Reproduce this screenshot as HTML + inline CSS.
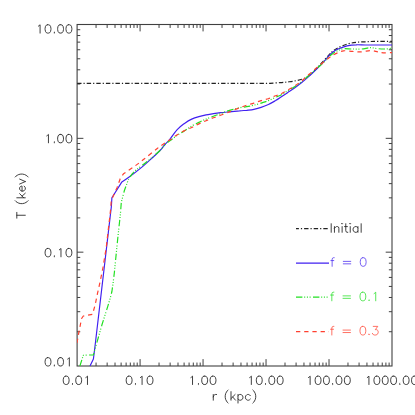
<!DOCTYPE html>
<html><head><meta charset="utf-8"><title>T vs r</title>
<style>
html,body{margin:0;padding:0;background:#fff;}
body{width:415px;height:415px;overflow:hidden;font-family:"Liberation Sans",sans-serif;}
svg{display:block;}
</style></head>
<body>
<svg width="415" height="415" viewBox="0 0 415 415">
<defs><clipPath id="c"><rect x="77.1" y="24.5" width="314.9" height="341.5"/></clipPath></defs>
<rect x="0" y="0" width="415" height="415" fill="#ffffff"/>
<rect x="77.1" y="24.5" width="314.9" height="341.5" fill="none" stroke="#404040" stroke-width="1.1"/>
<path d="M96.06,366.0 v-3.45 M96.06,24.5 v3.45 M107.15,366.0 v-3.45 M107.15,24.5 v3.45 M115.02,366.0 v-3.45 M115.02,24.5 v3.45 M121.12,366.0 v-3.45 M121.12,24.5 v3.45 M126.11,366.0 v-3.45 M126.11,24.5 v3.45 M130.32,366.0 v-3.45 M130.32,24.5 v3.45 M133.98,366.0 v-3.45 M133.98,24.5 v3.45 M137.20,366.0 v-3.45 M137.20,24.5 v3.45 M140.08,366.0 v-6.9 M140.08,24.5 v6.9 M159.04,366.0 v-3.45 M159.04,24.5 v3.45 M170.13,366.0 v-3.45 M170.13,24.5 v3.45 M178.00,366.0 v-3.45 M178.00,24.5 v3.45 M184.10,366.0 v-3.45 M184.10,24.5 v3.45 M189.09,366.0 v-3.45 M189.09,24.5 v3.45 M193.30,366.0 v-3.45 M193.30,24.5 v3.45 M196.96,366.0 v-3.45 M196.96,24.5 v3.45 M200.18,366.0 v-3.45 M200.18,24.5 v3.45 M203.06,366.0 v-6.9 M203.06,24.5 v6.9 M222.02,366.0 v-3.45 M222.02,24.5 v3.45 M233.11,366.0 v-3.45 M233.11,24.5 v3.45 M240.98,366.0 v-3.45 M240.98,24.5 v3.45 M247.08,366.0 v-3.45 M247.08,24.5 v3.45 M252.07,366.0 v-3.45 M252.07,24.5 v3.45 M256.28,366.0 v-3.45 M256.28,24.5 v3.45 M259.94,366.0 v-3.45 M259.94,24.5 v3.45 M263.16,366.0 v-3.45 M263.16,24.5 v3.45 M266.04,366.0 v-6.9 M266.04,24.5 v6.9 M285.00,366.0 v-3.45 M285.00,24.5 v3.45 M296.09,366.0 v-3.45 M296.09,24.5 v3.45 M303.96,366.0 v-3.45 M303.96,24.5 v3.45 M310.06,366.0 v-3.45 M310.06,24.5 v3.45 M315.05,366.0 v-3.45 M315.05,24.5 v3.45 M319.26,366.0 v-3.45 M319.26,24.5 v3.45 M322.92,366.0 v-3.45 M322.92,24.5 v3.45 M326.14,366.0 v-3.45 M326.14,24.5 v3.45 M329.02,366.0 v-6.9 M329.02,24.5 v6.9 M347.98,366.0 v-3.45 M347.98,24.5 v3.45 M359.07,366.0 v-3.45 M359.07,24.5 v3.45 M366.94,366.0 v-3.45 M366.94,24.5 v3.45 M373.04,366.0 v-3.45 M373.04,24.5 v3.45 M378.03,366.0 v-3.45 M378.03,24.5 v3.45 M382.24,366.0 v-3.45 M382.24,24.5 v3.45 M385.90,366.0 v-3.45 M385.90,24.5 v3.45 M389.12,366.0 v-3.45 M389.12,24.5 v3.45 M77.1,331.73 h3.15 M392.0,331.73 h-3.15 M77.1,311.69 h3.15 M392.0,311.69 h-3.15 M77.1,297.47 h3.15 M392.0,297.47 h-3.15 M77.1,286.43 h3.15 M392.0,286.43 h-3.15 M77.1,277.42 h3.15 M392.0,277.42 h-3.15 M77.1,269.80 h3.15 M392.0,269.80 h-3.15 M77.1,263.20 h3.15 M392.0,263.20 h-3.15 M77.1,257.38 h3.15 M392.0,257.38 h-3.15 M77.1,252.17 h6.3 M392.0,252.17 h-6.3 M77.1,217.90 h3.15 M392.0,217.90 h-3.15 M77.1,197.85 h3.15 M392.0,197.85 h-3.15 M77.1,183.63 h3.15 M392.0,183.63 h-3.15 M77.1,172.60 h3.15 M392.0,172.60 h-3.15 M77.1,163.59 h3.15 M392.0,163.59 h-3.15 M77.1,155.97 h3.15 M392.0,155.97 h-3.15 M77.1,149.36 h3.15 M392.0,149.36 h-3.15 M77.1,143.54 h3.15 M392.0,143.54 h-3.15 M77.1,138.33 h6.3 M392.0,138.33 h-6.3 M77.1,104.07 h3.15 M392.0,104.07 h-3.15 M77.1,84.02 h3.15 M392.0,84.02 h-3.15 M77.1,69.80 h3.15 M392.0,69.80 h-3.15 M77.1,58.77 h3.15 M392.0,58.77 h-3.15 M77.1,49.75 h3.15 M392.0,49.75 h-3.15 M77.1,42.13 h3.15 M392.0,42.13 h-3.15 M77.1,35.53 h3.15 M392.0,35.53 h-3.15 M77.1,29.71 h3.15 M392.0,29.71 h-3.15" fill="none" stroke="#404040" stroke-width="1"/>
<g fill="none" stroke-width="1.2" stroke-linejoin="round" clip-path="url(#c)">
<path d="M77.1,83.3 L270.0,83.3 C271.7,83.2 277.1,82.9 280.0,82.7 C282.9,82.5 284.8,82.3 287.2,82.0 C289.6,81.7 292.1,81.5 294.5,81.0 C296.9,80.5 299.5,80.0 301.7,79.3 C303.9,78.6 305.8,77.7 307.5,76.7 C309.2,75.7 310.4,74.4 311.8,73.1 C313.2,71.8 314.7,70.4 316.1,69.0 C317.5,67.6 317.9,67.2 320.0,64.9 C322.1,62.6 326.8,57.3 329.0,55.0 C331.2,52.7 331.5,52.2 333.0,51.0 C334.5,49.8 335.8,48.9 338.1,47.7 C340.5,46.6 344.1,45.0 347.1,44.1 C350.1,43.2 353.1,42.7 356.1,42.3 C359.1,41.9 362.2,41.9 365.2,41.8 C368.2,41.6 369.7,41.5 374.2,41.4 C378.7,41.3 389.3,41.4 392.3,41.4" stroke="#222" stroke-dasharray="4.4 2 1.2 2"/>
<path d="M90.0,366.0 L93.4,359.0 L95.1,345.5 L101.6,290.0 L111.3,207.0 L111.9,197.8 L121.9,181.9 C123.2,181.1 126.1,179.3 129.5,176.8 C132.9,174.3 138.3,170.2 142.2,166.9 C146.1,163.6 150.0,159.9 153.0,157.2 C156.0,154.5 158.0,152.6 160.0,150.5 C162.0,148.4 163.3,146.4 165.0,144.5 C166.7,142.6 168.0,141.5 170.0,139.0 C172.0,136.5 174.8,132.2 177.2,129.6 C179.6,127.0 182.1,125.2 184.5,123.4 C186.9,121.7 189.3,120.2 191.7,119.1 C194.1,118.0 196.5,117.3 198.9,116.6 C201.3,115.9 203.7,115.4 206.1,114.9 C208.5,114.4 211.0,114.1 213.4,113.7 C215.8,113.3 217.8,113.0 220.6,112.7 C223.4,112.4 226.8,112.1 230.0,111.8 C233.2,111.5 236.7,111.0 239.5,110.8 C242.3,110.5 244.3,110.5 246.7,110.3 C249.1,110.0 251.5,109.8 253.9,109.3 C256.3,108.8 258.7,108.2 261.1,107.4 C263.5,106.6 266.0,105.6 268.4,104.5 C270.8,103.4 273.5,101.8 275.6,100.6 C277.7,99.3 279.1,98.3 281.0,97.0 C282.9,95.7 284.9,94.4 287.2,92.9 C289.4,91.4 292.1,89.7 294.5,88.0 C296.9,86.3 299.3,84.4 301.7,82.5 C304.1,80.6 306.5,78.6 308.9,76.4 C311.3,74.2 313.7,71.9 316.1,69.5 C318.5,67.1 321.2,64.5 323.4,62.2 C325.5,59.9 327.4,57.3 329.0,55.6 C330.6,53.9 331.5,53.1 333.0,52.0 C334.5,50.9 335.8,50.0 338.1,49.0 C340.5,48.0 344.1,46.6 347.1,45.9 C350.1,45.2 353.1,44.9 356.1,44.8 C359.1,44.6 362.2,45.0 365.2,45.0 C368.2,45.0 369.7,45.0 374.2,45.0 C378.7,45.0 389.3,45.0 392.3,45.0" stroke="#4020f0"/>
<path d="M79.9,366.0 L83.3,355.3 L93.4,354.8 L101.8,325.3 L107.7,306.6 L110.1,298.7 L111.9,291.5 L113.1,283.1 L114.4,272.2 L115.4,262.0 L118.0,236.0 L120.5,213.0 L121.3,202.3 L124.4,190.5 L128.4,179.6 C129.1,178.6 131.1,175.3 132.4,173.7 C133.7,172.1 134.7,171.2 136.3,169.8 C137.9,168.4 139.8,167.2 142.2,165.4 C144.6,163.6 147.6,161.2 150.6,158.7 C153.6,156.2 157.6,152.8 160.0,150.5 C162.4,148.2 163.2,146.3 165.0,144.6 C166.8,142.8 169.0,141.5 171.0,140.0 C173.0,138.5 174.9,136.9 177.2,135.4 C179.4,133.9 182.1,132.4 184.5,130.8 C186.9,129.2 189.3,127.4 191.7,126.0 C194.1,124.6 196.5,123.6 198.9,122.4 C201.3,121.2 203.7,120.1 206.1,119.1 C208.5,118.1 211.0,117.1 213.4,116.2 C215.8,115.3 218.7,114.4 220.6,113.7 C222.5,113.0 223.1,112.6 225.0,111.9 C226.9,111.2 229.8,110.3 232.2,109.6 C234.6,108.9 237.1,108.3 239.5,107.8 C241.9,107.3 244.3,107.1 246.7,106.7 C249.1,106.3 251.5,105.8 253.9,105.2 C256.3,104.6 258.7,103.9 261.1,103.1 C263.5,102.3 266.0,101.6 268.4,100.6 C270.8,99.6 273.4,98.3 275.6,97.3 C277.8,96.3 279.5,95.8 281.4,94.8 C283.3,93.8 285.0,92.4 287.2,91.1 C289.4,89.8 292.1,88.4 294.5,86.8 C296.9,85.2 299.3,83.4 301.7,81.5 C304.1,79.6 306.5,77.5 308.9,75.5 C311.3,73.5 313.7,71.4 316.1,69.2 C318.5,67.0 321.2,64.6 323.4,62.5 C325.5,60.4 327.4,58.3 329.0,56.8 C330.6,55.3 331.5,54.4 333.0,53.4 C334.5,52.4 336.4,51.3 338.1,50.5 C339.9,49.7 341.1,49.0 343.5,48.7 C345.9,48.5 349.5,49.0 352.5,49.0 C355.5,49.0 358.6,49.2 361.6,49.0 C364.6,48.8 367.9,47.8 370.6,47.7 C373.3,47.7 375.4,48.5 377.8,48.7 C380.2,48.9 382.7,49.1 385.1,49.0 C387.5,48.9 391.1,48.4 392.3,48.3" stroke="#22e022" stroke-dasharray="6.4 1.8 1 1.7 1 1.7 1 2.4"/>
<path d="M77.0,343.0 L79.1,331.2 L81.6,318.5 L83.3,316.0 L92.5,314.3 L95.1,305.1 L97.4,293.9 L99.8,283.1 L103.0,267.5 L106.3,247.0 L110.9,207.0 L111.2,200.6 L116.9,188.0 L120.2,178.7 L123.6,173.7 C125.3,172.6 130.3,169.3 133.7,166.9 C137.1,164.5 139.9,162.4 143.8,159.3 C147.7,156.2 153.8,151.1 157.3,148.4 C160.8,145.7 162.9,144.4 165.0,143.0 C167.1,141.6 168.0,141.2 170.0,139.8 C172.0,138.4 174.8,136.2 177.2,134.7 C179.6,133.2 182.1,131.8 184.5,130.6 C186.9,129.4 189.3,128.6 191.7,127.5 C194.1,126.4 196.5,125.0 198.9,123.9 C201.3,122.8 203.7,121.7 206.1,120.7 C208.5,119.7 211.0,118.7 213.4,117.8 C215.8,116.9 218.2,116.1 220.6,115.2 C223.0,114.3 226.0,113.2 227.9,112.5 C229.8,111.8 230.3,111.5 232.2,110.7 C234.1,109.9 237.1,108.7 239.5,107.8 C241.9,106.9 244.3,106.0 246.7,105.2 C249.1,104.4 251.5,103.9 253.9,103.1 C256.3,102.3 258.7,101.3 261.1,100.6 C263.5,99.9 266.0,99.5 268.4,98.7 C270.8,97.9 273.4,96.6 275.6,95.8 C277.8,95.0 279.5,94.6 281.4,93.7 C283.3,92.8 285.0,91.7 287.2,90.4 C289.4,89.1 292.1,87.7 294.5,86.1 C296.9,84.5 299.3,82.9 301.7,81.0 C304.1,79.1 306.5,76.6 308.9,74.5 C311.3,72.4 313.7,70.3 316.1,68.3 C318.5,66.2 321.2,64.0 323.4,62.2 C325.5,60.4 327.4,58.9 329.0,57.7 C330.6,56.5 331.5,55.9 333.0,55.0 C334.5,54.1 336.4,53.3 338.1,52.6 C339.9,51.9 341.1,51.0 343.5,50.8 C345.9,50.6 349.5,51.2 352.5,51.4 C355.5,51.6 358.6,52.0 361.6,51.9 C364.6,51.8 367.9,50.5 370.6,50.5 C373.3,50.5 375.7,51.5 377.8,51.9 C379.9,52.3 380.9,52.7 383.3,52.8 C385.7,52.9 390.8,52.6 392.3,52.6" stroke="#ff4030" stroke-dasharray="4.3 3.9"/>
</g>
<g fill="none" stroke-width="1.2">
<path d="M296,228.6 H329" stroke="#222" stroke-dashoffset="1.5" stroke-dasharray="4.4 2 1.2 2"/>
<path d="M296,263.1 H329" stroke="#4020f0"/>
<path d="M296,297.2 H329" stroke="#22e022" stroke-dasharray="6.4 1.8 1 1.7 1 1.7 1 2.4"/>
<path d="M296,331.6 H329" stroke="#ff4030" stroke-dasharray="4.3 3.9"/>
</g>
<path d="M38.41,26.14 L39.24,25.54 L40.08,24.74 L40.08,33.10 M47.60,24.74 L46.35,25.14 L45.51,26.33 L45.09,28.32 L45.09,29.52 L45.51,31.51 L46.35,32.70 L47.60,33.10 L48.44,33.10 L49.69,32.70 L50.53,31.51 L50.95,29.52 L50.95,28.32 L50.53,26.33 L49.69,25.14 L48.44,24.74 L47.60,24.74 M54.29,32.30 L53.87,32.70 L54.29,33.10 L54.71,32.70 L54.29,32.30 M60.14,24.74 L58.89,25.14 L58.05,26.33 L57.63,28.32 L57.63,29.52 L58.05,31.51 L58.89,32.70 L60.14,33.10 L60.98,33.10 L62.23,32.70 L63.07,31.51 L63.49,29.52 L63.49,28.32 L63.07,26.33 L62.23,25.14 L60.98,24.74 L60.14,24.74 M68.50,24.74 L67.25,25.14 L66.41,26.33 L65.99,28.32 L65.99,29.52 L66.41,31.51 L67.25,32.70 L68.50,33.10 L69.34,33.10 L70.59,32.70 L71.43,31.51 L71.85,29.52 L71.85,28.32 L71.43,26.33 L70.59,25.14 L69.34,24.74 L68.50,24.74" fill="none" stroke="#262626" stroke-width="0.88" stroke-linecap="round" stroke-linejoin="round"/>
<path d="M46.77,135.84 L47.60,135.24 L48.44,134.44 L48.44,142.80 M54.29,142.00 L53.87,142.40 L54.29,142.80 L54.71,142.40 L54.29,142.00 M60.14,134.44 L58.89,134.84 L58.05,136.03 L57.63,138.02 L57.63,139.22 L58.05,141.21 L58.89,142.40 L60.14,142.80 L60.98,142.80 L62.23,142.40 L63.07,141.21 L63.49,139.22 L63.49,138.02 L63.07,136.03 L62.23,134.84 L60.98,134.44 L60.14,134.44 M68.50,134.44 L67.25,134.84 L66.41,136.03 L65.99,138.02 L65.99,139.22 L66.41,141.21 L67.25,142.40 L68.50,142.80 L69.34,142.80 L70.59,142.40 L71.43,141.21 L71.85,139.22 L71.85,138.02 L71.43,136.03 L70.59,134.84 L69.34,134.44 L68.50,134.44" fill="none" stroke="#262626" stroke-width="0.88" stroke-linecap="round" stroke-linejoin="round"/>
<path d="M47.60,248.44 L46.35,248.84 L45.51,250.03 L45.09,252.02 L45.09,253.22 L45.51,255.21 L46.35,256.40 L47.60,256.80 L48.44,256.80 L49.69,256.40 L50.53,255.21 L50.95,253.22 L50.95,252.02 L50.53,250.03 L49.69,248.84 L48.44,248.44 L47.60,248.44 M54.29,256.00 L53.87,256.40 L54.29,256.80 L54.71,256.40 L54.29,256.00 M59.31,249.84 L60.14,249.24 L60.98,248.44 L60.98,256.80 M68.50,248.44 L67.25,248.84 L66.41,250.03 L65.99,252.02 L65.99,253.22 L66.41,255.21 L67.25,256.40 L68.50,256.80 L69.34,256.80 L70.59,256.40 L71.43,255.21 L71.85,253.22 L71.85,252.02 L71.43,250.03 L70.59,248.84 L69.34,248.44 L68.50,248.44" fill="none" stroke="#262626" stroke-width="0.88" stroke-linecap="round" stroke-linejoin="round"/>
<path d="M47.60,357.64 L46.35,358.04 L45.51,359.23 L45.09,361.22 L45.09,362.42 L45.51,364.41 L46.35,365.60 L47.60,366.00 L48.44,366.00 L49.69,365.60 L50.53,364.41 L50.95,362.42 L50.95,361.22 L50.53,359.23 L49.69,358.04 L48.44,357.64 L47.60,357.64 M54.29,365.20 L53.87,365.60 L54.29,366.00 L54.71,365.60 L54.29,365.20 M60.14,357.64 L58.89,358.04 L58.05,359.23 L57.63,361.22 L57.63,362.42 L58.05,364.41 L58.89,365.60 L60.14,366.00 L60.98,366.00 L62.23,365.60 L63.07,364.41 L63.49,362.42 L63.49,361.22 L63.07,359.23 L62.23,358.04 L60.98,357.64 L60.14,357.64 M67.67,359.04 L68.50,358.44 L69.34,357.64 L69.34,366.00" fill="none" stroke="#262626" stroke-width="0.88" stroke-linecap="round" stroke-linejoin="round"/>
<path d="M65.73,376.14 L64.48,376.54 L63.64,377.73 L63.22,379.72 L63.22,380.92 L63.64,382.91 L64.48,384.10 L65.73,384.50 L66.57,384.50 L67.82,384.10 L68.66,382.91 L69.08,380.92 L69.08,379.72 L68.66,377.73 L67.82,376.54 L66.57,376.14 L65.73,376.14 M72.42,383.70 L72.00,384.10 L72.42,384.50 L72.84,384.10 L72.42,383.70 M78.27,376.14 L77.02,376.54 L76.18,377.73 L75.76,379.72 L75.76,380.92 L76.18,382.91 L77.02,384.10 L78.27,384.50 L79.11,384.50 L80.36,384.10 L81.20,382.91 L81.62,380.92 L81.62,379.72 L81.20,377.73 L80.36,376.54 L79.11,376.14 L78.27,376.14 M85.80,377.54 L86.63,376.94 L87.47,376.14 L87.47,384.50" fill="none" stroke="#262626" stroke-width="0.88" stroke-linecap="round" stroke-linejoin="round"/>
<path d="M128.71,376.14 L127.46,376.54 L126.62,377.73 L126.20,379.72 L126.20,380.92 L126.62,382.91 L127.46,384.10 L128.71,384.50 L129.55,384.50 L130.80,384.10 L131.64,382.91 L132.06,380.92 L132.06,379.72 L131.64,377.73 L130.80,376.54 L129.55,376.14 L128.71,376.14 M135.40,383.70 L134.98,384.10 L135.40,384.50 L135.82,384.10 L135.40,383.70 M140.42,377.54 L141.25,376.94 L142.09,376.14 L142.09,384.50 M149.61,376.14 L148.36,376.54 L147.52,377.73 L147.10,379.72 L147.10,380.92 L147.52,382.91 L148.36,384.10 L149.61,384.50 L150.45,384.50 L151.70,384.10 L152.54,382.91 L152.96,380.92 L152.96,379.72 L152.54,377.73 L151.70,376.54 L150.45,376.14 L149.61,376.14" fill="none" stroke="#262626" stroke-width="0.88" stroke-linecap="round" stroke-linejoin="round"/>
<path d="M190.86,377.54 L191.69,376.94 L192.53,376.14 L192.53,384.50 M198.38,383.70 L197.96,384.10 L198.38,384.50 L198.80,384.10 L198.38,383.70 M204.23,376.14 L202.98,376.54 L202.14,377.73 L201.72,379.72 L201.72,380.92 L202.14,382.91 L202.98,384.10 L204.23,384.50 L205.07,384.50 L206.32,384.10 L207.16,382.91 L207.58,380.92 L207.58,379.72 L207.16,377.73 L206.32,376.54 L205.07,376.14 L204.23,376.14 M212.59,376.14 L211.34,376.54 L210.50,377.73 L210.08,379.72 L210.08,380.92 L210.50,382.91 L211.34,384.10 L212.59,384.50 L213.43,384.50 L214.68,384.10 L215.52,382.91 L215.94,380.92 L215.94,379.72 L215.52,377.73 L214.68,376.54 L213.43,376.14 L212.59,376.14" fill="none" stroke="#262626" stroke-width="0.88" stroke-linecap="round" stroke-linejoin="round"/>
<path d="M249.66,377.54 L250.49,376.94 L251.33,376.14 L251.33,384.50 M258.85,376.14 L257.60,376.54 L256.76,377.73 L256.34,379.72 L256.34,380.92 L256.76,382.91 L257.60,384.10 L258.85,384.50 L259.69,384.50 L260.94,384.10 L261.78,382.91 L262.20,380.92 L262.20,379.72 L261.78,377.73 L260.94,376.54 L259.69,376.14 L258.85,376.14 M265.54,383.70 L265.12,384.10 L265.54,384.50 L265.96,384.10 L265.54,383.70 M271.39,376.14 L270.14,376.54 L269.30,377.73 L268.88,379.72 L268.88,380.92 L269.30,382.91 L270.14,384.10 L271.39,384.50 L272.23,384.50 L273.48,384.10 L274.32,382.91 L274.74,380.92 L274.74,379.72 L274.32,377.73 L273.48,376.54 L272.23,376.14 L271.39,376.14 M279.75,376.14 L278.50,376.54 L277.66,377.73 L277.24,379.72 L277.24,380.92 L277.66,382.91 L278.50,384.10 L279.75,384.50 L280.59,384.50 L281.84,384.10 L282.68,382.91 L283.10,380.92 L283.10,379.72 L282.68,377.73 L281.84,376.54 L280.59,376.14 L279.75,376.14" fill="none" stroke="#262626" stroke-width="0.88" stroke-linecap="round" stroke-linejoin="round"/>
<path d="M308.46,377.54 L309.29,376.94 L310.13,376.14 L310.13,384.50 M317.65,376.14 L316.40,376.54 L315.56,377.73 L315.14,379.72 L315.14,380.92 L315.56,382.91 L316.40,384.10 L317.65,384.50 L318.49,384.50 L319.74,384.10 L320.58,382.91 L321.00,380.92 L321.00,379.72 L320.58,377.73 L319.74,376.54 L318.49,376.14 L317.65,376.14 M326.01,376.14 L324.76,376.54 L323.92,377.73 L323.50,379.72 L323.50,380.92 L323.92,382.91 L324.76,384.10 L326.01,384.50 L326.85,384.50 L328.10,384.10 L328.94,382.91 L329.36,380.92 L329.36,379.72 L328.94,377.73 L328.10,376.54 L326.85,376.14 L326.01,376.14 M332.70,383.70 L332.28,384.10 L332.70,384.50 L333.12,384.10 L332.70,383.70 M338.55,376.14 L337.30,376.54 L336.46,377.73 L336.04,379.72 L336.04,380.92 L336.46,382.91 L337.30,384.10 L338.55,384.50 L339.39,384.50 L340.64,384.10 L341.48,382.91 L341.90,380.92 L341.90,379.72 L341.48,377.73 L340.64,376.54 L339.39,376.14 L338.55,376.14 M346.91,376.14 L345.66,376.54 L344.82,377.73 L344.40,379.72 L344.40,380.92 L344.82,382.91 L345.66,384.10 L346.91,384.50 L347.75,384.50 L349.00,384.10 L349.84,382.91 L350.26,380.92 L350.26,379.72 L349.84,377.73 L349.00,376.54 L347.75,376.14 L346.91,376.14" fill="none" stroke="#262626" stroke-width="0.88" stroke-linecap="round" stroke-linejoin="round"/>
<path d="M367.26,377.54 L368.09,376.94 L368.93,376.14 L368.93,384.50 M376.45,376.14 L375.20,376.54 L374.36,377.73 L373.94,379.72 L373.94,380.92 L374.36,382.91 L375.20,384.10 L376.45,384.50 L377.29,384.50 L378.54,384.10 L379.38,382.91 L379.80,380.92 L379.80,379.72 L379.38,377.73 L378.54,376.54 L377.29,376.14 L376.45,376.14 M384.81,376.14 L383.56,376.54 L382.72,377.73 L382.30,379.72 L382.30,380.92 L382.72,382.91 L383.56,384.10 L384.81,384.50 L385.65,384.50 L386.90,384.10 L387.74,382.91 L388.16,380.92 L388.16,379.72 L387.74,377.73 L386.90,376.54 L385.65,376.14 L384.81,376.14 M393.17,376.14 L391.92,376.54 L391.08,377.73 L390.66,379.72 L390.66,380.92 L391.08,382.91 L391.92,384.10 L393.17,384.50 L394.01,384.50 L395.26,384.10 L396.10,382.91 L396.52,380.92 L396.52,379.72 L396.10,377.73 L395.26,376.54 L394.01,376.14 L393.17,376.14 M399.86,383.70 L399.44,384.10 L399.86,384.50 L400.28,384.10 L399.86,383.70 M405.71,376.14 L404.46,376.54 L403.62,377.73 L403.20,379.72 L403.20,380.92 L403.62,382.91 L404.46,384.10 L405.71,384.50 L406.55,384.50 L407.80,384.10 L408.64,382.91 L409.06,380.92 L409.06,379.72 L408.64,377.73 L407.80,376.54 L406.55,376.14 L405.71,376.14 M414.07,376.14 L412.82,376.54 L411.98,377.73 L411.56,379.72 L411.56,380.92 L411.98,382.91 L412.82,384.10 L414.07,384.50 L414.91,384.50 L416.16,384.10 L417.00,382.91 L417.42,380.92 L417.42,379.72 L417.00,377.73 L416.16,376.54 L414.91,376.14 L414.07,376.14" fill="none" stroke="#262626" stroke-width="0.88" stroke-linecap="round" stroke-linejoin="round"/>
<path d="M213.28,394.49 L213.28,400.20 M213.28,396.94 L213.69,395.71 L214.52,394.90 L215.34,394.49 L216.58,394.49 M228.11,390.00 L227.29,390.82 L226.47,392.04 L225.64,393.67 L225.23,395.71 L225.23,397.34 L225.64,399.38 L226.47,401.02 L227.29,402.24 L228.11,403.06 M231.00,391.63 L231.00,400.20 M235.12,394.49 L231.00,398.57 M232.65,396.94 L235.53,400.20 M238.00,394.49 L238.00,403.06 M238.00,395.71 L238.83,394.90 L239.65,394.49 L240.89,394.49 L241.71,394.90 L242.53,395.71 L242.95,396.94 L242.95,397.75 L242.53,398.98 L241.71,399.79 L240.89,400.20 L239.65,400.20 L238.83,399.79 L238.00,398.98 M250.36,395.71 L249.54,394.90 L248.71,394.49 L247.48,394.49 L246.65,394.90 L245.83,395.71 L245.42,396.94 L245.42,397.75 L245.83,398.98 L246.65,399.79 L247.48,400.20 L248.71,400.20 L249.54,399.79 L250.36,398.98 M252.83,390.00 L253.66,390.82 L254.48,392.04 L255.31,393.67 L255.72,395.71 L255.72,397.34 L255.31,399.38 L254.48,401.02 L253.66,402.24 L252.83,403.06" fill="none" stroke="#262626" stroke-width="0.88" stroke-linecap="round" stroke-linejoin="round"/>
<path d="M16.80,215.26 L25.30,215.26 M16.80,218.17 L16.80,212.35 M15.18,200.70 L15.98,201.53 L17.20,202.36 L18.82,203.20 L20.84,203.61 L22.46,203.61 L24.49,203.20 L26.11,202.36 L27.33,201.53 L28.14,200.70 M16.80,197.79 L25.30,197.79 M19.63,193.63 L23.68,197.79 M22.06,196.12 L25.30,193.21 M22.06,191.13 L22.06,186.14 L21.25,186.14 L20.44,186.56 L20.04,186.97 L19.63,187.80 L19.63,189.05 L20.04,189.88 L20.84,190.72 L22.06,191.13 L22.87,191.13 L24.09,190.72 L24.89,189.88 L25.30,189.05 L25.30,187.80 L24.89,186.97 L24.09,186.14 M19.63,184.06 L25.30,181.56 M19.63,179.07 L25.30,181.56 M15.18,176.99 L15.98,176.16 L17.20,175.32 L18.82,174.49 L20.84,174.08 L22.46,174.08 L24.49,174.49 L26.11,175.32 L27.33,176.16 L28.14,176.99" fill="none" stroke="#262626" stroke-width="0.88" stroke-linecap="round" stroke-linejoin="round"/>
<path d="M331.20,223.73 L331.20,232.30 M334.44,226.59 L334.44,232.30 M334.44,228.22 L335.65,227.00 L336.46,226.59 L337.68,226.59 L338.49,227.00 L338.89,228.22 L338.89,232.30 M341.73,223.73 L342.13,224.14 L342.54,223.73 L342.13,223.32 L341.73,223.73 M342.13,226.59 L342.13,232.30 M345.78,223.73 L345.78,230.67 L346.19,231.89 L347.00,232.30 L347.81,232.30 M344.56,226.59 L347.40,226.59 M349.83,223.73 L350.24,224.14 L350.64,223.73 L350.24,223.32 L349.83,223.73 M350.24,226.59 L350.24,232.30 M357.93,226.59 L357.93,232.30 M357.93,227.81 L357.12,227.00 L356.31,226.59 L355.09,226.59 L354.28,227.00 L353.47,227.81 L353.07,229.04 L353.07,229.85 L353.47,231.08 L354.28,231.89 L355.09,232.30 L356.31,232.30 L357.12,231.89 L357.93,231.08 M361.17,223.73 L361.17,232.30" fill="none" stroke="#262626" stroke-width="0.88" stroke-linecap="round" stroke-linejoin="round"/>
<path d="M334.20,257.69 L333.38,257.69 L332.55,258.10 L332.13,259.33 L332.13,266.30 M330.89,260.56 L333.79,260.56 M343.31,261.38 L350.76,261.38 M343.31,263.84 L350.76,263.84 M362.77,257.69 L361.53,258.10 L360.70,259.33 L360.29,261.38 L360.29,262.61 L360.70,264.66 L361.53,265.89 L362.77,266.30 L363.60,266.30 L364.84,265.89 L365.67,264.66 L366.08,262.61 L366.08,261.38 L365.67,259.33 L364.84,258.10 L363.60,257.69 L362.77,257.69" fill="none" stroke="#5034f0" stroke-width="0.8" stroke-linecap="round" stroke-linejoin="round"/>
<path d="M333.90,292.19 L333.08,292.19 L332.25,292.60 L331.83,293.83 L331.83,300.80 M330.59,295.06 L333.49,295.06 M343.01,295.88 L350.46,295.88 M343.01,298.34 L350.46,298.34 M362.47,292.19 L361.23,292.60 L360.40,293.83 L359.99,295.88 L359.99,297.11 L360.40,299.16 L361.23,300.39 L362.47,300.80 L363.30,300.80 L364.54,300.39 L365.37,299.16 L365.78,297.11 L365.78,295.88 L365.37,293.83 L364.54,292.60 L363.30,292.19 L362.47,292.19 M369.09,299.98 L368.68,300.39 L369.09,300.80 L369.51,300.39 L369.09,299.98 M374.06,293.62 L374.89,293.01 L375.72,292.19 L375.72,300.80" fill="none" stroke="#2ee02e" stroke-width="0.8" stroke-linecap="round" stroke-linejoin="round"/>
<path d="M333.90,326.39 L333.08,326.39 L332.25,326.80 L331.83,328.03 L331.83,335.00 M330.59,329.26 L333.49,329.26 M343.01,330.08 L350.46,330.08 M343.01,332.54 L350.46,332.54 M362.47,326.39 L361.23,326.80 L360.40,328.03 L359.99,330.08 L359.99,331.31 L360.40,333.36 L361.23,334.59 L362.47,335.00 L363.30,335.00 L364.54,334.59 L365.37,333.36 L365.78,331.31 L365.78,330.08 L365.37,328.03 L364.54,326.80 L363.30,326.39 L362.47,326.39 M369.09,334.18 L368.68,334.59 L369.09,335.00 L369.51,334.59 L369.09,334.18 M373.23,326.39 L377.79,326.39 L375.30,329.67 L376.55,329.67 L377.37,330.08 L377.79,330.49 L378.20,331.72 L378.20,332.54 L377.79,333.77 L376.96,334.59 L375.72,335.00 L374.48,335.00 L373.23,334.59 L372.82,334.18 L372.41,333.36" fill="none" stroke="#ff4c3c" stroke-width="0.8" stroke-linecap="round" stroke-linejoin="round"/>
</svg>
</body></html>
